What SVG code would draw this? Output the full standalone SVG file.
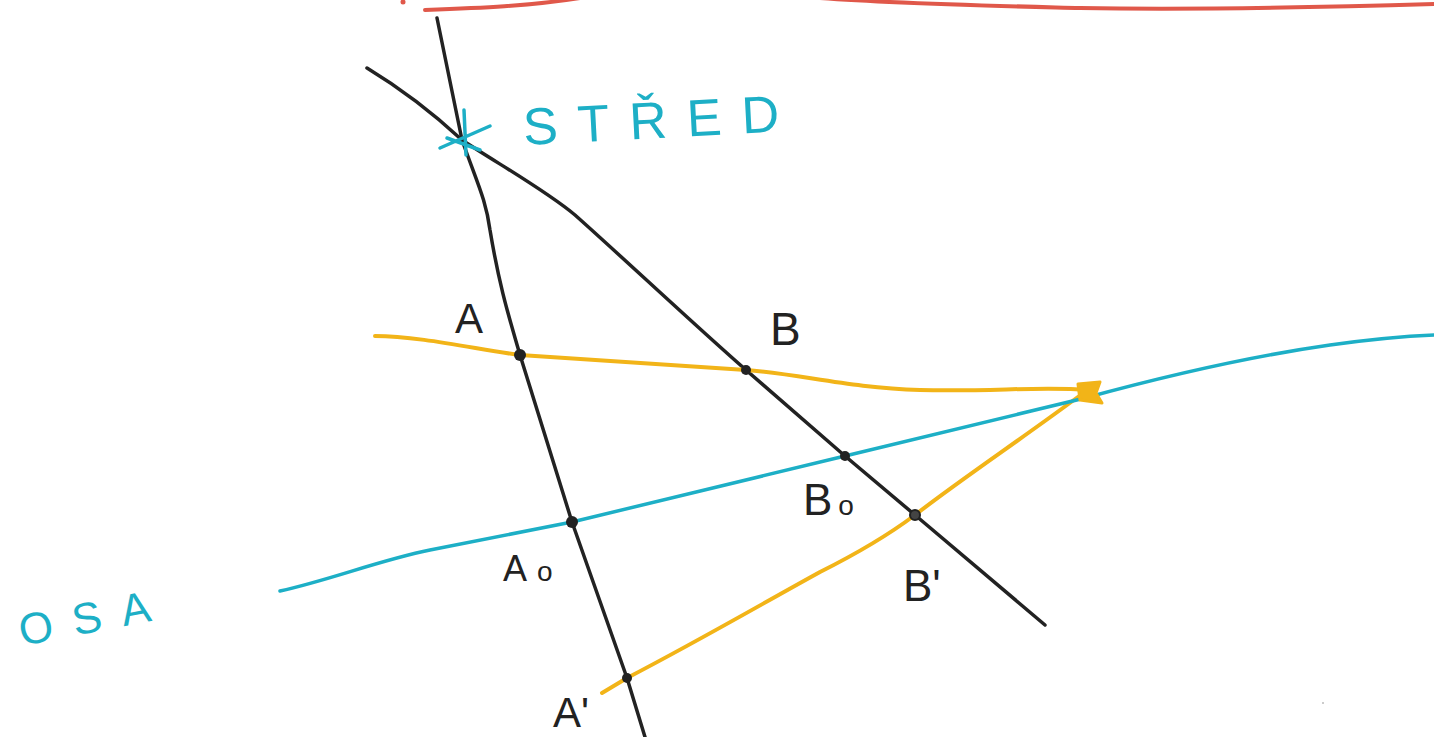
<svg xmlns="http://www.w3.org/2000/svg" width="1434" height="737" viewBox="0 0 1434 737">
<style>
.ln{fill:none;stroke-linecap:round;stroke-linejoin:round}
.blk{stroke:#222;stroke-width:3.5}
.yel{stroke:#F2B418;stroke-width:4}
.cyn{stroke:#1DAFC6;stroke-width:3.5}
.red{stroke:#E0584A;stroke-width:4}
.dot{fill:#222}
.lab{font-family:"Liberation Sans",Arial,sans-serif;fill:#222}
.ctx{font-family:"Liberation Sans",Arial,sans-serif;fill:#1DAFC6}
</style>
<rect width="1434" height="737" fill="#fff"/>
<g id="connectors">
<path id="red-line" class="ln red" d="M425,10 C480,8 530,6 580,-2 L820,-2 C900,4 1000,6 1080,8 C1200,10 1300,8 1434,4"/>
<circle cx="403" cy="2" r="2.5" fill="#E0584A"/>
<path id="black-1" class="ln blk" d="M437,18 L462,140 C478,185 486,200 490,230 C500,290 510,320 520,355 L572,522 L627,678 L645,737"/>
<path id="black-2" class="ln blk" d="M367,68 C400,88 435,115 462,140 C500,165 545,190 575,215 C620,255 700,330 746,370 L845,456 L915,515 L1045,625"/>
<path id="yellow-1" class="ln yel" d="M375,336 C420,336 480,350 520,355 L746,370 C800,374 850,388 920,390 C990,392 1040,386 1088,390"/>
<path id="yellow-2" class="ln yel" d="M602,693 L627,678 C700,640 760,605 820,572 C860,552 895,530 915,515 C960,480 1020,440 1082,394"/>
<path id="cyan-axis" class="ln cyn" d="M280,591 C330,580 380,560 430,550 L572,522 L845,456 L1085,398 C1180,372 1260,355 1330,345 C1380,338 1410,336 1434,335"/>
<path id="arrow-tip" d="M1078,384 L1100,382 L1096,393 L1102,403 L1080,400 Z" fill="#F2B418" stroke="#F2B418" stroke-width="3" stroke-linejoin="round"/>
</g>
<g id="node-stred">
<path class="ln cyn" stroke-width="5" d="M440,148 L490,126 M464,110 L466,155 M447,138 L480,150"/>
<text class="ctx" x="524" y="145" font-size="52" letter-spacing="20" transform="rotate(-3 524 145)">STŘED</text>
</g>
<g id="node-osa">
<text class="ctx" x="22" y="646" font-size="44" letter-spacing="20" transform="rotate(-11 22 646)">OSA</text>
</g>
<g id="node-A">
<circle class="dot" cx="520" cy="355" r="6"/>
<text class="lab" x="455" y="333" font-size="42">A</text>
</g>
<g id="node-B">
<circle class="dot" cx="746" cy="370" r="5"/>
<text class="lab" x="770" y="345" font-size="46">B</text>
</g>
<g id="node-B0">
<circle class="dot" cx="845" cy="456" r="5"/>
<text class="lab" x="803" y="515" font-size="44">B<tspan dx="6" font-size="28">o</tspan></text>
</g>
<g id="node-A0">
<circle class="dot" cx="572" cy="522" r="6"/>
<text class="lab" x="503" y="581" font-size="36">A<tspan dx="10" font-size="28">o</tspan></text>
</g>
<g id="node-Bprime">
<circle cx="915" cy="515" r="5" fill="#444" stroke="#222" stroke-width="2"/>
<text class="lab" x="903" y="601" font-size="44">B'</text>
</g>
<g id="node-Aprime">
<circle class="dot" cx="627" cy="678" r="5"/>
<text class="lab" x="553" y="727" font-size="42">A'</text>
</g>
<circle cx="1323" cy="703" r="1" fill="#bbb"/>
</svg>
